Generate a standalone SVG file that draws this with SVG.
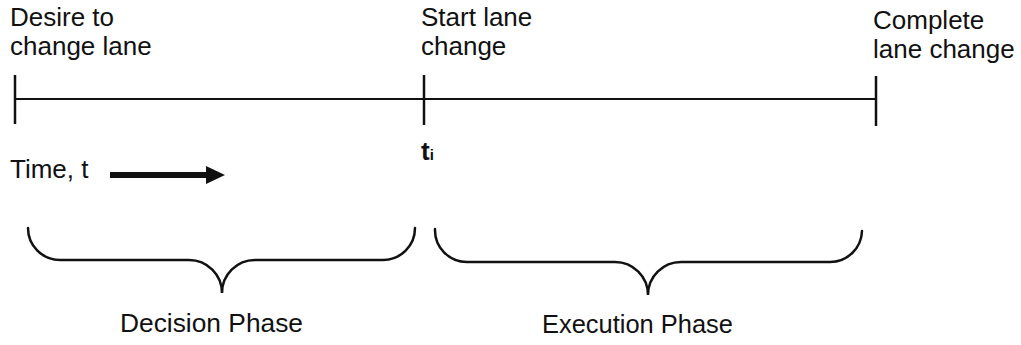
<svg xmlns="http://www.w3.org/2000/svg" width="1021" height="345" viewBox="0 0 1021 345">
<style>
  text { font-family: "Liberation Sans", Arial, sans-serif; font-size: 26px; fill: #111; }
  .line { stroke: #111; stroke-width: 2; fill: none; }
  .tick { stroke: #111; stroke-width: 2.5; fill: none; }
  .brace { stroke: #111; stroke-width: 2.5; fill: none; stroke-linecap: round; }
</style>
<rect width="1021" height="345" fill="#fff"/>
<g id="connectors">
  <line class="line" x1="15" y1="99" x2="876" y2="99"/>
  <rect x="110" y="172" width="98" height="6" fill="#111"/>
  <polygon points="206,166 225,175 206,184" fill="#111"/>
</g>
<g id="desire">
  <line class="tick" x1="15" y1="75" x2="15" y2="124"/>
  <text x="10" y="26">Desire to</text>
  <text x="10" y="55">change lane</text>
</g>
<g id="start">
  <line class="tick" x1="424" y1="75" x2="424" y2="125"/>
  <text x="421" y="26">Start lane</text>
  <text x="421" y="55">change</text>
  <text x="421" y="160" font-weight="bold">t<tspan font-size="15">i</tspan></text>
</g>
<g id="complete">
  <line class="tick" x1="876" y1="76" x2="876" y2="126"/>
  <text x="873" y="29">Complete</text>
  <text x="873" y="58">lane change</text>
</g>
<g id="time">
  <text x="10" y="178">Time, t</text>
</g>
<g id="decision">
  <path class="brace" d="M28,228 A32,32 0 0 0 60,260 H189 A33,33 0 0 1 222,293 A33,33 0 0 1 255,260 H383 A32,32 0 0 0 415,228"/>
  <text x="120" y="332" textLength="183" lengthAdjust="spacingAndGlyphs">Decision Phase</text>
</g>
<g id="execution">
  <path class="brace" d="M435,229 A32,32 0 0 0 467,262 H615 A33,33 0 0 1 648,295 A33,33 0 0 1 681,262 H830 A32,32 0 0 0 862,231"/>
  <text x="542" y="333" textLength="191" lengthAdjust="spacingAndGlyphs">Execution Phase</text>
</g>
</svg>
